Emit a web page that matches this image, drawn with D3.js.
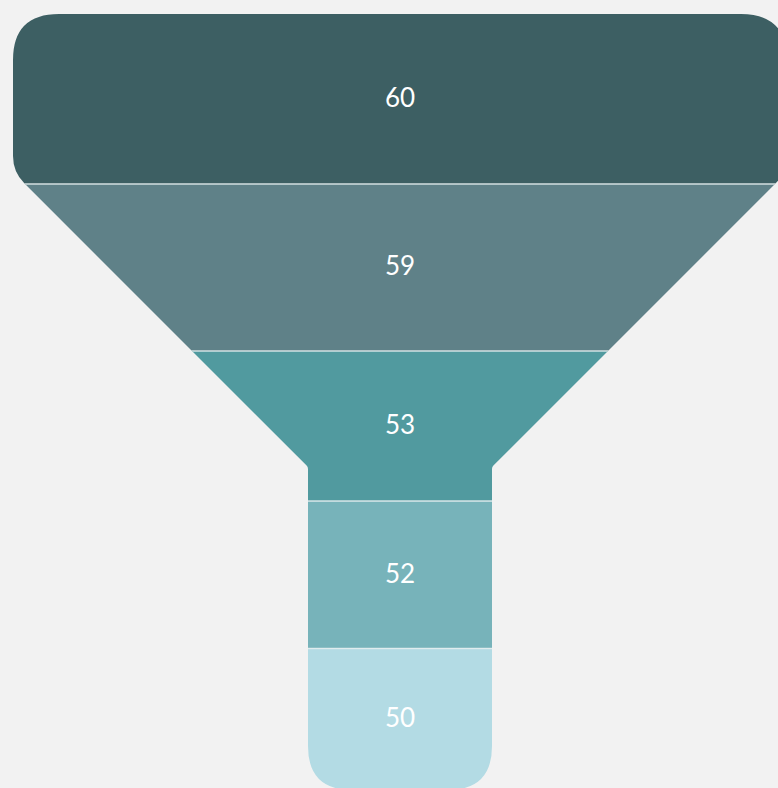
<!DOCTYPE html>
<html>
<head>
<meta charset="utf-8">
<script src="https://cdn.jsdelivr.net/npm/d3@7"></script>
<style>
  html, body { margin: 0; padding: 0; background: #f2f2f2; }
  svg { display: block; }
</style>
</head>
<body>
<div id="chart"></div>
<script>
// data
const stages = ["Stage 1", "Stage 2", "Stage 3", "Stage 4", "Stage 5"];
const values = [60, 59, 53, 52, 50];
const palette = ["#3d5f63", "#5f8188", "#519a9f", "#77b3ba", "#b3dbe4"];

const width = 778, height = 788;
const cx = 400;          // funnel centre line
const topY = 14, bottomY = 790;
const topW = 774, neckW = 184;
const slopeStart = 172, neckStart = 467;

const svg = d3.select("#chart").append("svg")
    .attr("width", width)
    .attr("height", height);

// cumulative offsets -> vertical scale
const offsets = d3.cumsum([0, ...values]);
const y = d3.scaleLinear()
    .domain([0, d3.sum(values)])
    .range([topY, bottomY]);

// polygon with rounded corners (quadratic per vertex)
function roundedPath(pts) {
    const n = pts.length;
    const path = d3.path();
    const cut = (a, b, r) => {
        const dx = b[0] - a[0], dy = b[1] - a[1];
        const len = Math.hypot(dx, dy);
        const t = Math.min(r, len / 2) / len;
        return [a[0] + dx * t, a[1] + dy * t];
    };
    pts.forEach((p, i) => {
        const prev = pts[(i - 1 + n) % n], next = pts[(i + 1) % n];
        const a = cut(p, prev, p[2]), b = cut(p, next, p[2]);
        if (i === 0) path.moveTo(a[0], a[1]); else path.lineTo(a[0], a[1]);
        path.quadraticCurveTo(p[0], p[1], b[0], b[1]);
    });
    path.closePath();
    return path.toString();
}

const L = cx - topW / 2, R = cx + topW / 2;
const nl = cx - neckW / 2, nr = cx + neckW / 2;
const outline = roundedPath([
    [L, topY, 46],
    [R, topY, 46],
    [R, slopeStart, 16],
    [nr, neckStart, 2],
    [nr, bottomY, 44],
    [nl, bottomY, 44],
    [nl, neckStart, 2],
    [L, slopeStart, 16]
]);

svg.append("clipPath").attr("id", "funnel-clip")
  .append("path").attr("d", outline);

const g = svg.append("g").attr("clip-path", "url(#funnel-clip)");

g.selectAll("rect.segment")
    .data(values)
    .join("rect")
    .attr("class", "segment")
    .attr("x", 0)
    .attr("width", width)
    .attr("y", (d, i) => y(offsets[i]))
    .attr("height", (d, i) => y(offsets[i + 1]) - y(offsets[i]))
    .attr("fill", (d, i) => palette[i]);

// separators between segments
g.selectAll("line.sep")
    .data(offsets.slice(1, values.length))
    .join("line")
    .attr("class", "sep")
    .attr("x1", 0).attr("x2", width)
    .attr("y1", d => y(d)).attr("y2", d => y(d))
    .attr("stroke", "#e6eef0")
    .attr("stroke-opacity", 0.85)
    .attr("stroke-width", 1.5);

// value labels
svg.selectAll("text.label")
    .data(values)
    .join("text")
    .attr("class", "label")
    .attr("x", cx)
    .attr("y", (d, i) => (y(offsets[i]) + y(offsets[i + 1])) / 2 - 1.5)
    .attr("dy", "0.36em")
    .attr("text-anchor", "middle")
    .attr("fill", "#ffffff")
    .style("font-family", "Lato, 'Open Sans', sans-serif")
    .style("font-size", "26px")
    .text(d => d);
</script>
</body>
</html>
